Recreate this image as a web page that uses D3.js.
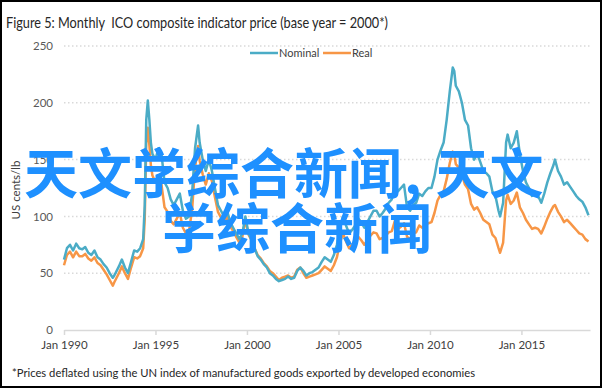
<!DOCTYPE html>
<html>
<head>
<meta charset="utf-8">
<script src="https://cdn.jsdelivr.net/npm/d3@7"></script>
<style>
  body { margin: 0; background: #fff; }
  svg { display: block; }
  text { font-family: Lato, "Open Sans", sans-serif; }
</style>
</head>
<body>
<svg id="chart" width="604" height="390"></svg>
<script>
// chart data
var months = [
  "1990-01","1990-03","1990-05","1990-07","1990-09","1990-11",
  "1991-01","1991-03","1991-05","1991-07","1991-09","1991-11",
  "1992-01","1992-03","1992-05","1992-07","1992-09","1992-10",
  "1993-01","1993-03","1993-05","1993-07","1993-09","1993-11",
  "1994-01","1994-03","1994-05","1994-06","1994-07","1994-08","1994-09","1994-10","1994-11",
  "1995-01","1995-03","1995-05","1995-07","1995-09","1995-11",
  "1996-01","1996-03","1996-05","1996-07","1996-09","1996-11",
  "1997-01","1997-03","1997-05","1997-06","1997-08","1997-10","1997-12",
  "1998-02","1998-04","1998-06","1998-08","1998-10","1998-12",
  "1999-02","1999-04","1999-06","1999-08","1999-10","1999-12",
  "2000-02","2000-04","2000-06","2000-08","2000-10","2000-12",
  "2001-02","2001-04","2001-06","2001-08","2001-10","2001-12",
  "2002-02","2002-04","2002-06","2002-08","2002-10","2002-12",
  "2003-02","2003-04","2003-06","2003-08","2003-10","2003-12",
  "2004-02","2004-04","2004-06","2004-08","2004-10","2004-12",
  "2005-02","2005-04","2005-06","2005-08","2005-10","2005-12",
  "2006-02","2006-04","2006-06","2006-08","2006-10","2006-12",
  "2007-02","2007-04","2007-06","2007-08","2007-10","2007-12",
  "2008-02","2008-04","2008-06","2008-08","2008-10","2008-12",
  "2009-02","2009-04","2009-06","2009-08","2009-10","2009-12",
  "2010-02","2010-04","2010-06","2010-08","2010-10","2010-12",
  "2011-02","2011-04","2011-05","2011-06","2011-08","2011-10","2011-12",
  "2012-02","2012-04","2012-06","2012-08","2012-10","2012-12",
  "2013-02","2013-04","2013-06","2013-08","2013-10","2013-11",
  "2014-01","2014-03","2014-04","2014-06","2014-08","2014-10","2014-12",
  "2015-02","2015-04","2015-06","2015-08","2015-10","2015-12",
  "2016-02","2016-04","2016-06","2016-08","2016-10","2016-11",
  "2017-01","2017-03","2017-05","2017-07","2017-09","2017-11",
  "2018-01","2018-03","2018-05","2018-07","2018-09"
]

var nominal = [
  62,72,75,70,76,72,
  71,73,68,66,70,64,
  62,58,55,50,46,48,
  56,62,55,50,60,70,
  69,72,80,110,185,202,185,165,155,
  150,160,155,130,125,115,
  110,115,120,105,98,100,
  120,160,180,165,150,140,150,
  140,125,110,105,100,105,
  95,90,85,80,85,100,
  85,80,72,65,62,58,
  55,50,48,45,43,44,
  45,47,45,46,52,55,
  52,48,50,51,53,55,
  60,64,62,60,66,75,
  90,100,92,85,88,92,
  98,95,90,95,100,105,
  105,100,103,107,112,115,
  130,122,125,128,108,105,
  110,112,120,118,122,125,
  125,135,150,158,165,185,
  210,231,228,215,210,200,185,
  180,160,150,155,148,140,
  138,135,122,118,105,100,
  112,165,172,160,165,175,155,
  140,130,125,118,120,118,
  112,120,130,138,145,150,
  140,135,128,130,126,122,
  118,115,113,108,101
]

var real = [
  57,66,69,64,69,65,
  65,67,63,61,64,59,
  57,53,49,44,39,42,
  50,56,50,45,55,64,
  63,65,72,98,164,178,163,145,136,
  130,135,128,108,104,96,
  93,98,103,90,85,87,
  106,143,162,149,137,128,138,
  131,117,104,99,95,100,
  91,87,82,77,82,97,
  84,79,72,66,63,59,
  56,52,50,47,44,46,
  47,48,46,47,53,55,
  50,46,47,48,49,50,
  53,56,54,52,57,64,
  77,85,78,72,75,78,
  82,79,75,79,83,86,
  85,80,81,83,86,87,
  96,89,91,94,82,80,
  85,86,92,90,93,94,
  95,103,114,119,122,133,
  147,157,155,146,143,137,128,
  124,111,106,108,103,97,
  95,93,84,81,72,68,
  77,114,119,111,114,121,108,
  103,97,93,89,90,89,
  85,91,98,104,109,110,
  104,100,95,97,94,91,
  88,85,84,80,78
]

var yTicks = [0, 50, 100, 150, 200, 250]
var xTickYears = [1990, 1995, 2000, 2005, 2010, 2015]
var seriesNames = ["Nominal", "Real"]
var seriesColors = ["#4bacc6", "#f79646"]

var parseMonth = d3.timeParse("%Y-%m")
var dates = months.map(parseMonth)

var svg = d3.select("#chart")

// outer frame
svg.append("rect")
    .attr("x", 1).attr("y", 1)
    .attr("width", 600).attr("height", 386)
    .style("fill", "#fff")
    .style("stroke", "#000")
    .style("stroke-width", 2)

svg.append("text")
    .attr("x", 6).attr("y", 28)
    .attr("textLength", 382)
    .attr("lengthAdjust", "spacingAndGlyphs")
    .attr("xml:space", "preserve")
    .style("font-size", "15px")
    .style("fill", "#262626")
    .text("Figure 5: Monthly  ICO composite indicator price (base year = 2000*)")

var x = d3.scaleTime()
    .domain([new Date(1990, 0, 1), new Date(2018, 9, 1)])
    .range([64, 590])

var y = d3.scaleLinear()
    .domain([0, 250])
    .range([330, 46])

// gridlines
svg.append("g")
    .selectAll("line")
    .data(yTicks.filter(function(d) { return d > 0 }))
    .enter().append("line")
    .attr("x1", 64).attr("x2", 590)
    .attr("y1", function(d) { return y(d) })
    .attr("y2", function(d) { return y(d) })
    .style("stroke", "#d9d9d9")
    .style("stroke-width", 1.5)
    .style("stroke-dasharray", "1.5,2.5")

// y axis labels
var yAxis = d3.axisLeft(y).tickValues(yTicks).tickSize(0).tickPadding(11)
var yg = svg.append("g")
    .attr("transform", "translate(64,0)")
    .call(yAxis)
yg.select(".domain").remove()
yg.selectAll("text")
    .style("font-family", "Lato, sans-serif")
    .style("font-size", "11.5px")
    .style("fill", "#595959")

// x axis
var xAxis = d3.axisBottom(x)
    .tickValues(xTickYears.map(function(yr) { return new Date(yr, 0, 1) }))
    .tickFormat(d3.timeFormat("Jan %Y"))
    .tickSizeInner(5).tickSizeOuter(0).tickPadding(6)
var xg = svg.append("g")
    .attr("transform", "translate(0," + y(0) + ")")
    .call(xAxis)
xg.select(".domain").style("stroke", "#d9d9d9").style("stroke-width", 1.5)
xg.selectAll(".tick line").style("stroke", "#d9d9d9").style("stroke-width", 1.5)
xg.selectAll("text")
    .style("font-family", "Lato, sans-serif")
    .style("font-size", "11.5px")
    .style("fill", "#404040")

svg.append("text")
    .attr("transform", "translate(20,190) rotate(-90)")
    .attr("text-anchor", "middle")
    .style("font-size", "11.5px")
    .style("fill", "#404040")
    .text("US cents/lb")

// lines
var line = d3.line()
    .x(function(d) { return x(d[0]) })
    .y(function(d) { return y(d[1]) })

var seriesValues = [nominal, real]
seriesValues.slice().reverse().forEach(function(vals, k) {
    var idx = 1 - k
    svg.append("path")
        .datum(dates.map(function(dt, i) { return [dt, vals[i]] }))
        .attr("d", line)
        .style("fill", "none")
        .style("stroke", seriesColors[idx])
        .style("stroke-width", 2.5)
        .style("stroke-linejoin", "round")
})

// legend
var legendX = [250, 323]
var legend = svg.append("g")
seriesNames.forEach(function(name, i) {
    legend.append("line")
        .attr("x1", legendX[i]).attr("x2", legendX[i] + 28)
        .attr("y1", 53).attr("y2", 53)
        .style("stroke", seriesColors[i])
        .style("stroke-width", 2.5)
    legend.append("text")
        .attr("x", legendX[i] + 29).attr("y", 57)
        .style("font-size", "11px")
        .style("fill", "#404040")
        .text(name)
})

// footnote
svg.append("text")
    .attr("x", 12).attr("y", 377)
    .attr("textLength", 463)
    .attr("lengthAdjust", "spacingAndGlyphs")
    .style("font-size", "12px")
    .style("fill", "#262626")
    .text("*Prices deflated using the UN index of manufactured goods exported by developed economies")

// overlay text, drawn on top of the chart
var overlayFont = "'Noto Sans CJK SC', sans-serif"
var l1 = svg.append("text")
    .attr("x", 24).attr("y", 194)
    .style("font-family", overlayFont)
    .style("font-weight", "bold")
    .style("font-size", "54px")
    .style("fill", "#1e90ff")
l1.append("tspan").text("天文学综合新闻")
l1.append("tspan").attr("dx", 2).text(",")
l1.append("tspan").attr("dx", 14).text("天文")

svg.append("text")
    .attr("x", 162).attr("y", 249)
    .style("font-family", overlayFont)
    .style("font-weight", "bold")
    .style("font-size", "54px")
    .style("fill", "#1e90ff")
    .text("学综合新闻")
</script>
</body>
</html>
